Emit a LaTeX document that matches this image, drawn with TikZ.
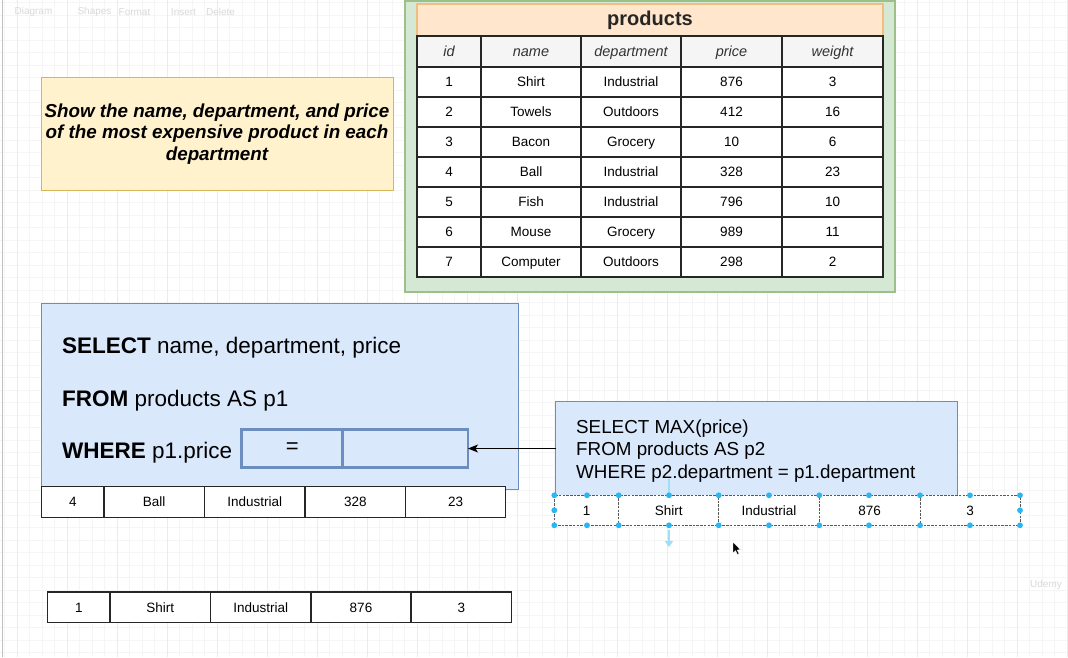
\documentclass[tikz,border=0pt]{standalone}
\usepackage{fontspec}
\setmainfont{Liberation Sans}
\usetikzlibrary{arrows.meta}
\definecolor{grnf}{HTML}{D5E8D4}
\definecolor{grnb}{HTML}{9DC08B}
\definecolor{orgf}{HTML}{FFE6CC}
\definecolor{orgb}{HTML}{F2BD7E}
\definecolor{ylwf}{HTML}{FFF2CC}
\definecolor{ylwb}{HTML}{D6B656}
\definecolor{bluf}{HTML}{DAE8FC}
\definecolor{blub}{HTML}{6C8EBF}
\definecolor{hdl}{HTML}{29B6F2}
\definecolor{hdrf}{HTML}{F5F5F5}
\begin{document}
\begin{tikzpicture}[x=1pt,y=-1pt,
  gridminor/.style={draw=black!4, line width=0.8},
  gridmajor/.style={draw=black!8, line width=1},
  tool/.style={text=black!15, font=\fontsize{10}{12}\selectfont, inner sep=0},
  cell/.style={draw=black!85, line width=1.2, fill=white, inner sep=0, outer sep=0, text height=9.7pt, text depth=0pt, font=\fontsize{13.5}{16}\selectfont},
  hcell/.style={cell, fill=hdrf, text=black!80, text height=10.4pt, font=\fontsize{14.5}{17}\selectfont\itshape},
  selcell/.style={draw=black!65, line width=1, dash pattern=on 2.5 off 1.2, fill=white, inner sep=0, outer sep=0, text height=9.7pt, text depth=0pt, font=\fontsize{13.5}{16}\selectfont},
  bluebox/.style={draw=blub, fill=bluf, line width=1, inner sep=0, outer sep=0},
  eqbox/.style={draw=blub, fill=bluf, line width=2.6, inner sep=0, outer sep=0},
  sqltxt/.style={anchor=base west, inner sep=0, font=\fontsize{22.5}{26}\selectfont},
  handle/.style={fill=hdl, draw=none},
  hover/.style={draw=hdl!45, line width=1.5},
]
\useasboundingbox (0,0) rectangle (1068,657);
\fill[white] (0,0) rectangle (1068,657);
% grid
\foreach \i in {0,...,85} \draw[gridminor] ({4.5+12.5*\i},0) -- ++(0,657);
\foreach \i in {0,...,52} \draw[gridminor] (0,{2.7+12.5*\i}) -- ++(1068,0);
\foreach \i in {0,...,21} \draw[gridmajor] ({17+50*\i},0) -- ++(0,657);
\draw[black!25, line width=1.2] (2.5,0) -- (2.5,657);
% faint toolbar
\node[tool] (tb1) at (33.5,12) {Diagram};
\node[tool] (tb2) at (94.5,12) {Shapes};
\node[tool] (tb3) at (134.5,12) {Format};
\node[tool] (tb4) at (183.5,12) {Insert};
\node[tool] (tb5) at (220.5,12) {Delete};
\node[tool] (udemy) at (1046,585) {Udemy};

% products container
\node[draw=grnb, fill=grnf, line width=1.2, minimum width=490, minimum height=291, inner sep=0, outer sep=0] (prodbg) at (650,146.5) {};
\node[draw=orgb, fill=orgf, line width=1.2, minimum width=466, minimum height=32, inner sep=0, outer sep=0, font=\fontsize{20}{24}\selectfont\bfseries, text=black!85] (prodhdr) at (650,20) {products};
% header row
\foreach \k/\xa/\xb/\v in {1/417/481/id, 2/481/581/name, 3/581/681/department, 4/681/782/price, 5/782/883/weight}
  \node[hcell, minimum width={\xb-\xa}, minimum height=31] (p-0-\k) at ({(\xa+\xb)/2},51.5) {\v};
% body rows
\foreach \r/\ya/\yb/\va/\vb/\vc/\vd/\ve in {1/67/97/1/Shirt/Industrial/876/3, 2/97/127/2/Towels/Outdoors/412/16, 3/127/157/3/Bacon/Grocery/10/6, 4/157/187/4/Ball/Industrial/328/23, 5/187/217/5/Fish/Industrial/796/10, 6/217/247/6/Mouse/Grocery/989/11, 7/247/277/7/Computer/Outdoors/298/2}{
  \foreach \k/\xa/\xb/\v in {1/417/481/\va, 2/481/581/\vb, 3/581/681/\vc, 4/681/782/\vd, 5/782/883/\ve}
    \node[cell, minimum width={\xb-\xa}, minimum height={\yb-\ya}] (p-\r-\k) at ({(\xa+\xb)/2},{(\ya+\yb)/2}) {\v};
}

% question
\node[draw=ylwb, fill=ylwf, line width=1, minimum width=352, minimum height=113.4, inner sep=0, outer sep=0, align=center, font=\fontsize{18.8}{21.7}\selectfont\bfseries\itshape] (question) at (217,134) {Show the name, department, and price\\of the most expensive product in each\\department};

% main query
\node[bluebox, minimum width=477, minimum height=185.7] (mainq) at (279.5,396.2) {};
\node[sqltxt] (sel) at (62,353) {\textbf{SELECT} name, department, price};
\node[sqltxt] (frm) at (62,406) {\textbf{FROM} products AS p1};
\node[sqltxt] (whr) at (62,458) {\textbf{WHERE} p1.price};
\node[eqbox, minimum width=101, minimum height=38.4, font=\fontsize{22}{26}\selectfont] (eq) at (292.2,448.5) {=};
\node[eqbox, minimum width=125.3, minimum height=38.4] (slot) at (405.35,448.5) {};

% row 4 under main query
\foreach \k/\xa/\xb/\v in {1/41.7/104/4, 2/104/204.3/Ball, 3/204.3/305/Industrial, 4/305/405.7/328, 5/405.7/505.7/23}
  \node[cell, minimum width={\xb-\xa}, minimum height=30.6] (ra-\k) at ({(\xa+\xb)/2},502) {\v};

% bottom row
\foreach \k/\xa/\xb/\v in {1/47.7/110/1, 2/110/210.5/Shirt, 3/210.5/311/Industrial, 4/311/411/876, 5/411/511.6/3}
  \node[cell, minimum width={\xb-\xa}, minimum height=30.3] (rb-\k) at ({(\xa+\xb)/2},607.2) {\v};

% subquery
\node[bluebox, minimum width=402, minimum height=95] (subq) at (756.7,448.5) {};
\node[anchor=north west, inner sep=0, align=left, font=\fontsize{18.8}{22.5}\selectfont] (subtxt) at (576,419.6) {SELECT MAX(price)\\FROM products AS p2\\WHERE p2.department = p1.department};

% selected row
\foreach \k/\xa/\xb/\v in {1/554.3/618.7/1, 2/618.7/718.7/Shirt, 3/718.7/819.3/Industrial, 4/819.3/920/876, 5/920/1020/3}
  \node[selcell, minimum width={\xb-\xa}, minimum height=30] (rs-\k) at ({(\xa+\xb)/2},510.3) {\v};

% arrow
\draw[line width=1, -{Stealth[length=10,width=8,inset=2.5]}] (subq.west) -- (slot.east);

% hover arrows
\draw[hover] (669,493) -- (669,479);
\draw[hover, -{Triangle[length=6,width=8]}] (669,530) -- (669,547);

% handles
\foreach \x in {554.3,587,618.7,669,718.7,769,819.3,869,920,970,1020}{
  \fill[handle] (\x,495.3) circle (2.9);
  \fill[handle] (\x,525.3) circle (2.9);
}
\fill[handle] (554.3,510.3) circle (2.9);
\fill[handle] (1020,510.3) circle (2.9);

% cursor
\filldraw[fill=black, draw=white, line width=0.4] (733,542) -- (733,553) -- (735.6,550.6) -- (737.4,554.5) -- (739,553.8) -- (737.2,550) -- (740.5,549.8) -- cycle;
\end{tikzpicture}
\end{document}
